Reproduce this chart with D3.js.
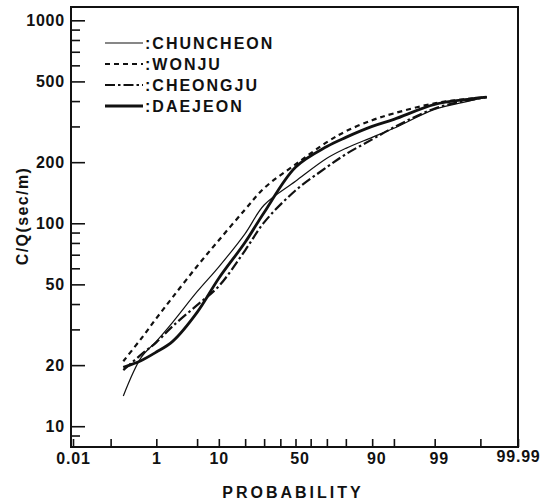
<!DOCTYPE html>
<html>
<head>
<meta charset="utf-8">
<script src="https://cdn.jsdelivr.net/npm/d3@7"></script>
<style>
  body { margin: 0; background: #fff; }
  text { font-family: "Liberation Sans", Arial, sans-serif; font-weight: bold; fill: #111; }
</style>
</head>
<body>
<div id="chart"></div>
<script>
// cumulative probability (%) at which the curves were read
const probs = [0.2, 0.5, 1, 2, 5, 10, 20, 30, 50, 70, 80, 90, 95, 99, 99.8, 99.93];
const chuncheon = [14.1, 21.9, 26.2, 32.5, 46, 61, 89, 123, 161, 209, 234, 265, 294, 364, 399, 418];
const wonju = [20.9, 27.1, 34, 43.2, 61.4, 82.5, 117, 149, 195, 251, 284, 322, 348, 390, 410, 418];
const cheongju = [18.9, 22.6, 25.9, 31.1, 39.5, 49, 73.6, 101, 145, 189, 219, 259, 297, 368, 403, 418];
const daejeon = [19.5, 21.1, 23.2, 26.2, 36.4, 53.6, 80.6, 113, 189, 239, 265, 300, 325, 385, 408, 418];

const seriesNames = ["CHUNCHEON", "WONJU", "CHEONGJU", "DAEJEON"];
const xLabelTicks = [0.01, 1, 10, 50, 90, 99, 99.99];
const xMinorTicks = [0.1, 5, 20, 30, 40, 60, 70, 80, 95, 99.9];
const yMajorTicks = [10, 20, 50, 100, 200, 500, 1000];
const yMinorTicks = [9, 30, 40, 60, 70, 80, 90, 300, 400, 600, 700, 800, 900];

// line style per series
const styles = [
  { width: 1.2, dash: null },
  { width: 2.2, dash: "5,4" },
  { width: 2.2, dash: "10,3,2.5,3" },
  { width: 2.8, dash: null },
];

// inverse normal cdf (Acklam)
function probit(p) {
  const a = [-39.69683028665376, 220.9460984245205, -275.9285104469687, 138.357751867269, -30.66479806614716, 2.506628277459239];
  const b = [-54.47609879822406, 161.5858368580409, -155.6989798598866, 66.80131188771972, -13.28068155288572];
  const c = [-0.007784894002430293, -0.3223964580411365, -2.400758277161838, -2.549732539343734, 4.374664141464968, 2.938163982698783];
  const d = [0.007784695709041462, 0.3224671290700398, 2.445134137142996, 3.754408661907416];
  const pl = 0.02425;
  let q, r;
  if (p < pl) {
    q = Math.sqrt(-2 * Math.log(p));
    return (((((c[0]*q+c[1])*q+c[2])*q+c[3])*q+c[4])*q+c[5]) / ((((d[0]*q+d[1])*q+d[2])*q+d[3])*q+1);
  }
  if (p > 1 - pl) {
    q = Math.sqrt(-2 * Math.log(1 - p));
    return -(((((c[0]*q+c[1])*q+c[2])*q+c[3])*q+c[4])*q+c[5]) / ((((d[0]*q+d[1])*q+d[2])*q+d[3])*q+1);
  }
  q = p - 0.5; r = q * q;
  return (((((a[0]*r+a[1])*r+a[2])*r+a[3])*r+a[4])*r+a[5])*q / (((((b[0]*r+b[1])*r+b[2])*r+b[3])*r+b[4])*r+1);
}

const width = 560, height = 503;
const frame = { left: 71, right: 518, top: 7, bottom: 447 };

const svg = d3.select("#chart").append("svg")
  .attr("width", width).attr("height", height)
  .style("background", "white");

// probability scale, built so d3.axis can use it
const zScale = d3.scaleLinear().domain([probit(0.0001), probit(0.9999)]).range([73, frame.right]);
function x(p) { return zScale(probit(p / 100)); }
x.domain = () => [0.01, 99.99];
x.range = () => zScale.range();
x.copy = () => x;

const y = d3.scaleLog().domain([7.9, 1150]).range([frame.bottom, 8]);

// axes
const yMajor = svg.append("g").attr("transform", `translate(${frame.left},0)`)
  .call(d3.axisLeft(y).tickValues(yMajorTicks).tickFormat(d3.format("d"))
    .tickSizeInner(-14).tickSizeOuter(0).tickPadding(6));
const yMinor = svg.append("g").attr("transform", `translate(${frame.left},0)`)
  .call(d3.axisLeft(y).tickValues(yMinorTicks).tickFormat("")
    .tickSizeInner(-9).tickSizeOuter(0));
const xMajor = svg.append("g").attr("transform", `translate(0,${frame.bottom})`)
  .call(d3.axisBottom(x).tickValues(xLabelTicks).tickFormat(d => String(d))
    .tickSizeInner(-8).tickSizeOuter(0).tickPadding(6));
const xMinor = svg.append("g").attr("transform", `translate(0,${frame.bottom})`)
  .call(d3.axisBottom(x).tickValues(xMinorTicks).tickFormat("")
    .tickSizeInner(-8).tickSizeOuter(0));

[yMajor, yMinor, xMajor, xMinor].forEach(g => {
  g.select(".domain").remove();
  g.selectAll("line").attr("stroke", "#111").attr("stroke-width", 1.6);
  g.selectAll("text").attr("font-size", 16).style("letter-spacing", "0.8px");
});
xMajor.selectAll(".tick text").filter(d => d === 99.99).attr("dy", "0.58em");
// the printed labels for 50, 90, 99 sit a little right of their ticks
xMajor.selectAll(".tick text").filter(d => d === 50 || d === 90 || d === 99).attr("dx", 4);

// frame
svg.append("rect")
  .attr("x", frame.left).attr("y", frame.top)
  .attr("width", frame.right - frame.left).attr("height", frame.bottom - frame.top)
  .attr("fill", "none").attr("stroke", "#111").attr("stroke-width", 2);

// curves
const allSeries = [chuncheon, wonju, cheongju, daejeon];
const line = d3.line()
  .x((d, i) => x(probs[i]))
  .y(d => y(d))
  .curve(d3.curveCatmullRom.alpha(0.5));

allSeries.forEach((vals, k) => {
  svg.append("path")
    .datum(vals)
    .attr("d", line)
    .attr("fill", "none")
    .attr("stroke", "#111")
    .attr("stroke-width", styles[k].width)
    .attr("stroke-dasharray", styles[k].dash);
});

// legend
const leg = svg.append("g");
seriesNames.forEach((name, k) => {
  const ly = 43 + k * 21;
  leg.append("line")
    .attr("x1", 105).attr("x2", 143).attr("y1", ly).attr("y2", ly)
    .attr("stroke", "#111")
    .attr("stroke-width", styles[k].width)
    .attr("stroke-dasharray", styles[k].dash);
  leg.append("text")
    .attr("x", 145).attr("y", ly).attr("dy", "0.36em")
    .attr("font-size", 16).style("letter-spacing", "2px")
    .text(":" + name);
});

// axis titles
svg.append("text")
  .attr("transform", "translate(28,216) rotate(-90)")
  .attr("text-anchor", "middle")
  .attr("font-size", 16).style("letter-spacing", "1.4px")
  .text("C/Q(sec/m)");

svg.append("text")
  .attr("x", 293).attr("y", 498)
  .attr("text-anchor", "middle")
  .attr("font-size", 16).style("letter-spacing", "3px")
  .text("PROBABILITY");
</script>
</body>
</html>
